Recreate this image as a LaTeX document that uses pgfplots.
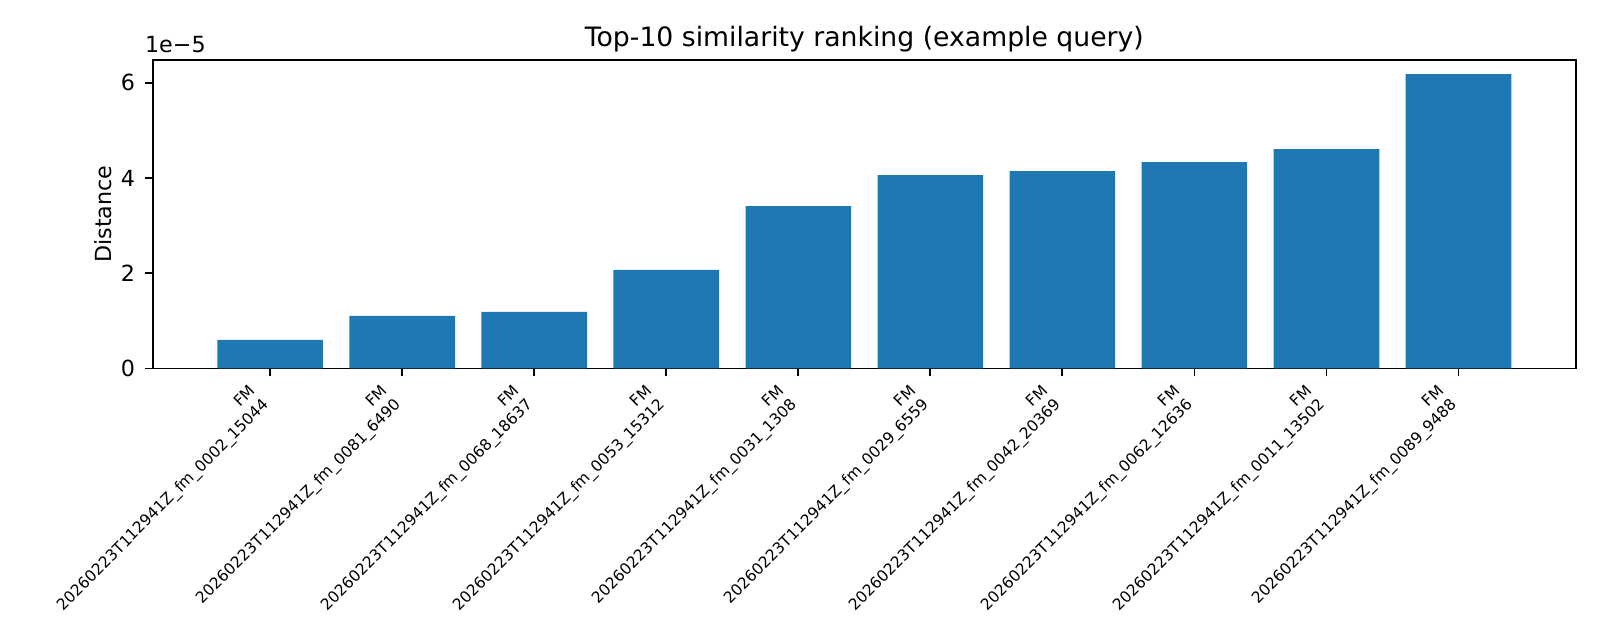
\documentclass[border=0pt]{standalone}
\usepackage{fontspec}
\setmainfont{DejaVu Sans}
\usepackage{pgfplots}
\pgfplotsset{compat=1.18}
\definecolor{mplblue}{HTML}{1F77B4}

\begin{document}
\begin{tikzpicture}
\begin{axis}[
  scale only axis,
  width=640.5pt, height=138.8pt,
  xmin=-0.89, xmax=9.89,
  ymin=0, ymax=6.48e-5,
  ybar, bar width=0.8,
  axis line style={line width=0.8pt, black},
  tick style={line width=0.8pt, black},
  major tick length=3.5pt,
  tick align=outside,
  xtick pos=left, ytick pos=left,
  xtick={0,...,9},
  xticklabels={
    {FM\\20260223T112941Z\_fm\_0002\_15044},
    {FM\\20260223T112941Z\_fm\_0081\_6490},
    {FM\\20260223T112941Z\_fm\_0068\_18637},
    {FM\\20260223T112941Z\_fm\_0053\_15312},
    {FM\\20260223T112941Z\_fm\_0031\_1308},
    {FM\\20260223T112941Z\_fm\_0029\_6559},
    {FM\\20260223T112941Z\_fm\_0042\_20369},
    {FM\\20260223T112941Z\_fm\_0062\_12636},
    {FM\\20260223T112941Z\_fm\_0011\_13502},
    {FM\\20260223T112941Z\_fm\_0089\_9488}},
  xticklabel style={font=\fontsize{7}{8.4}\selectfont, align=right,
    inner sep=0pt, xshift=1.2pt, yshift=-14.2pt, rotate=45, anchor=south east},
  ytick={0,2e-5,4e-5,6e-5},
  scaled y ticks=base 10:5,
  ytick scale label code/.code={1e−5},
  every y tick scale label/.style={at={(rel axis cs:0,1)}, anchor=south west,
    inner sep=0pt, xshift=0.6pt, yshift=3.2pt, font=\fontsize{10}{12}\selectfont},
  yticklabel style={font=\fontsize{10}{12}\selectfont, inner sep=0pt, xshift=-4.2pt},
  /pgf/number format/assume math mode=true,
  ylabel={Distance},
  ylabel style={font=\fontsize{10}{12}\selectfont, at={(rel axis cs:0,0.5)},
    anchor=center, yshift=22.2pt},
  title={Top-10 similarity ranking (example query)},
  title style={font=\fontsize{12}{14}\selectfont, at={(rel axis cs:0.5,1)},
    anchor=base},
]
\addplot[fill=mplblue, draw=none] coordinates {
  (0,0.598e-5) (1,1.102e-5) (2,1.186e-5) (3,2.068e-5) (4,3.412e-5)
  (5,4.063e-5) (6,4.147e-5) (7,4.335e-5) (8,4.608e-5) (9,6.183e-5)
};
\end{axis}
\pgfresetboundingbox
\useasboundingbox (-68.7pt,-122.2pt) rectangle (651.3pt,165.8pt);
\end{tikzpicture}
\end{document}
